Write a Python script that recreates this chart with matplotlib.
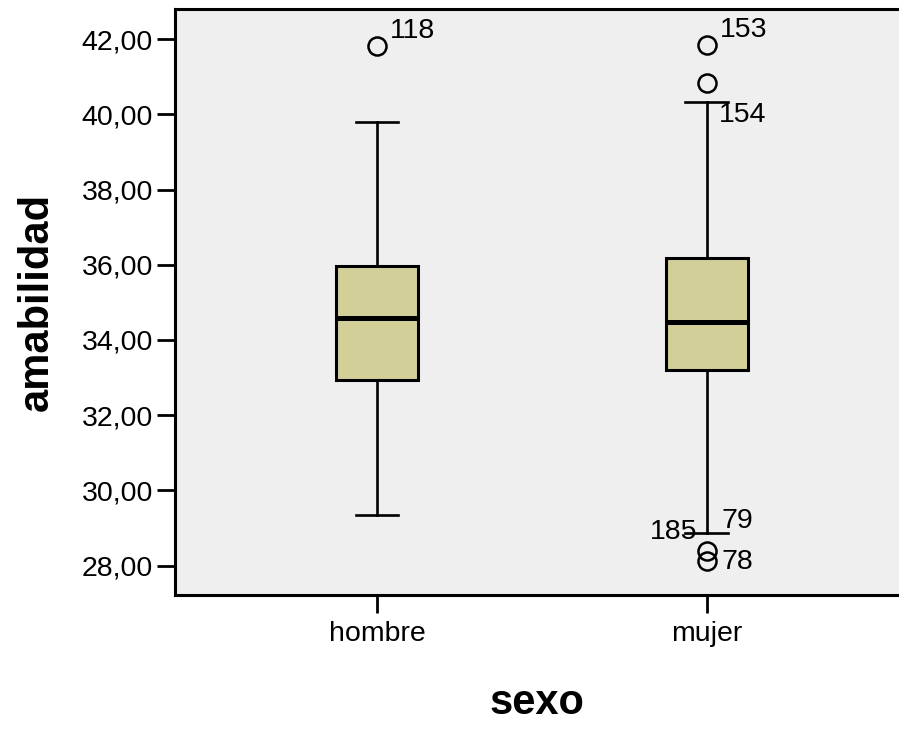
import matplotlib
matplotlib.use("Agg")
from matplotlib import pyplot as plt

plt.rcParams['font.family'] = ['Liberation Sans', 'DejaVu Sans']

# summary of amabilidad by sexo
groups = ["hombre", "mujer"]
q1 = [32.94, 33.20]
medians = [34.58, 34.48]
q3 = [35.97, 36.19]
whisker_low = [29.36, 28.86]
whisker_high = [39.79, 40.32]
outliers = [[41.81], [41.84, 40.82, 28.40, 28.13]]

# case labels next to the outliers
case_ids = ["118", "153", "154", "185", "79", "78"]
case_x = [1.04, 2.04, 2.036, 1.97, 2.045, 2.045]
case_y = [42.22, 42.24, 39.97, 28.90, 29.20, 28.10]
case_align = ["left", "left", "left", "right", "left", "left"]

stats = []
for i in range(len(groups)):
    stats.append({"label": groups[i], "q1": q1[i], "med": medians[i], "q3": q3[i],
                  "whislo": whisker_low[i], "whishi": whisker_high[i],
                  "fliers": outliers[i]})

fig = plt.figure(figsize=(8.99, 7.29), dpi=100)
ax = fig.add_axes([175/899, (729-595)/729, 1 - 175/899, (595-9)/729])
ax.set_facecolor("#efefef")

ax.bxp(stats, positions=[1, 2], widths=0.25, patch_artist=True,
       boxprops=dict(facecolor="#d3cf98", edgecolor="black", linewidth=2.2),
       medianprops=dict(color="black", linewidth=3.6),
       whiskerprops=dict(color="black", linewidth=1.9),
       capprops=dict(color="black", linewidth=1.9),
       flierprops=dict(marker="o", markersize=13, markerfacecolor="none",
                       markeredgecolor="black", markeredgewidth=1.8),
       capwidths=0.13)

for lab, x, y, ha in zip(case_ids, case_x, case_y, case_align):
    ax.text(x, y, lab, ha=ha, va="center", fontsize=20.5)

ax.set_xlim(0.388, 2.582)
ax.set_ylim(27.22, 42.80)
ax.set_yticks([28, 30, 32, 34, 36, 38, 40, 42])
ax.set_yticklabels(["28,00", "30,00", "32,00", "34,00", "36,00", "38,00", "40,00", "42,00"])
ax.set_xticks([1, 2])
ax.set_xticklabels(groups)
ax.tick_params(axis="both", labelsize=20.5, length=13, width=2, direction="out", pad=3)
ax.tick_params(axis="x", pad=6)

for side in ["left", "top", "bottom"]:
    ax.spines[side].set_linewidth(2.2)
ax.spines["right"].set_visible(False)

ax.set_xlabel("sexo", fontsize=30, fontweight="bold", labelpad=26)
ax.set_ylabel("amabilidad", fontsize=30, fontweight="bold", labelpad=18)

fig.savefig("out.png", dpi=100)
